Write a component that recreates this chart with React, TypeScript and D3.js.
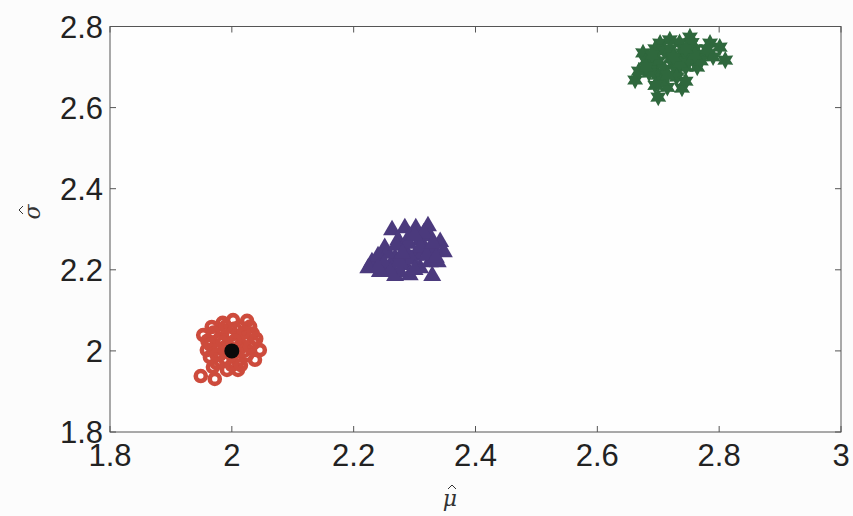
import React from "react";
import * as d3 from "d3";

// estimates
const redX = [1.949, 1.972, 2.025, 2.034, 2.036, 2.046, 2.038, 2.010, 1.953, 1.959, 1.964, 1.967, 1.985, 2.002, 2.013, 1.969, 1.992, 1.980, 2.000, 2.020, 1.975, 2.020, 1.990, 2.010, 2.025, 1.985, 1.960, 2.030, 2.000, 1.975, 1.995, 2.015, 1.970, 2.005, 1.990, 2.030, 1.980, 2.000, 1.965, 2.020, 2.015, 1.985, 1.975, 2.040, 2.005, 1.990];
const redY = [1.938, 1.931, 2.074, 2.043, 2.020, 2.002, 1.978, 1.953, 2.039, 2.002, 1.985, 2.059, 2.069, 2.076, 2.059, 1.960, 1.953, 2.030, 2.040, 2.030, 2.005, 2.000, 1.980, 1.975, 1.990, 2.050, 2.025, 2.060, 1.965, 1.970, 2.010, 2.015, 2.045, 2.055, 2.000, 2.010, 1.990, 1.990, 2.015, 2.045, 1.965, 2.020, 1.990, 2.030, 2.025, 2.060];

const purpleX = [2.263, 2.284, 2.302, 2.322, 2.342, 2.348, 2.338, 2.329, 2.268, 2.243, 2.230, 2.240, 2.251, 2.273, 2.292, 2.309, 2.325, 2.284, 2.301, 2.317, 2.268, 2.284, 2.309, 2.325, 2.260, 2.292, 2.224, 2.276, 2.333, 2.255, 2.270, 2.290, 2.310, 2.320, 2.295, 2.275, 2.250, 2.315, 2.300, 2.335, 2.300, 2.260, 2.240, 2.280, 2.330];
const purpleY = [2.298, 2.303, 2.303, 2.308, 2.269, 2.244, 2.219, 2.185, 2.185, 2.195, 2.219, 2.234, 2.254, 2.273, 2.283, 2.273, 2.283, 2.249, 2.236, 2.249, 2.229, 2.212, 2.204, 2.219, 2.209, 2.187, 2.204, 2.195, 2.249, 2.240, 2.260, 2.265, 2.255, 2.235, 2.225, 2.220, 2.215, 2.290, 2.285, 2.230, 2.200, 2.195, 2.205, 2.240, 2.265];

const greenX = [2.662, 2.700, 2.739, 2.752, 2.785, 2.810, 2.801, 2.675, 2.703, 2.719, 2.764, 2.690, 2.720, 2.740, 2.700, 2.730, 2.680, 2.760, 2.775, 2.745, 2.715, 2.695, 2.735, 2.790, 2.668, 2.700, 2.725, 2.750, 2.710, 2.690, 2.755, 2.730, 2.705, 2.685, 2.720, 2.770, 2.745, 2.710, 2.735, 2.760, 2.680, 2.725, 2.780, 2.695, 2.745, 2.715];
const greenY = [2.668, 2.626, 2.648, 2.774, 2.759, 2.717, 2.749, 2.735, 2.759, 2.767, 2.700, 2.700, 2.720, 2.735, 2.680, 2.690, 2.715, 2.745, 2.730, 2.700, 2.650, 2.745, 2.760, 2.725, 2.690, 2.715, 2.705, 2.720, 2.740, 2.730, 2.760, 2.675, 2.665, 2.685, 2.745, 2.715, 2.665, 2.695, 2.710, 2.730, 2.700, 2.725, 2.745, 2.655, 2.745, 2.680];

const trueMu = [2.0];
const trueSigma = [2.0];

const xTicks = [1.8, 2, 2.2, 2.4, 2.6, 2.8, 3];
const yTicks = [1.8, 2, 2.2, 2.4, 2.6, 2.8];

const W = 853, H = 516;
const left = 110, right = 841, top = 26.5, bottom = 432;
const tickLen = 6;
const font = "'Liberation Sans', Arial, sans-serif";
const serif = "'DejaVu Serif', 'Liberation Serif', serif";

// six pointed star, like matlab's 'h' marker
const hexagram = {
  draw(ctx: any, size: number) {
    const R = Math.sqrt(size) * 0.62;
    const r = R * 0.55;
    for (let i = 0; i < 12; i++) {
      const a = (i * Math.PI) / 6 - Math.PI / 2;
      const rr = i % 2 === 0 ? R : r;
      if (i === 0) ctx.moveTo(rr * Math.cos(a), rr * Math.sin(a));
      else ctx.lineTo(rr * Math.cos(a), rr * Math.sin(a));
    }
    ctx.closePath();
  }
};

const hat = "M-4,0 L0,-4 L4,0";

const App = () => {
  const x = d3.scaleLinear().domain([1.8, 3]).range([left, right]);
  const y = d3.scaleLinear().domain([1.8, 2.8]).range([bottom, top]);
  const tri = d3.symbol().type(d3.symbolTriangle).size(140)();
  const star = d3.symbol().type(hexagram as any).size(220)();
  const fmt = (d: number) => String(+d.toFixed(1));

  return (
    <svg width={W} height={H} style={{ position: "fixed", left: 0, top: 0, background: "#fcfcfc" }}>
      <rect x={0} y={0} width={W} height={H} fill="#fcfcfc" />
      <rect x={left} y={top} width={right - left} height={bottom - top} fill="#fefefe" />

      {/* red circles */}
      {redX.map((d, i) => (
        <circle key={"r" + i} cx={x(d)} cy={y(redY[i])} r={5} fill="none" stroke="#cd4b3c" strokeWidth={4.6} />
      ))}
      {trueMu.map((d, i) => (
        <circle key={"t" + i} cx={x(d)} cy={y(trueSigma[i])} r={7.5} fill="#0a0a0a" />
      ))}

      {/* purple triangles */}
      {purpleX.map((d, i) => (
        <path key={"p" + i} d={tri!} transform={`translate(${x(d)},${y(purpleY[i])})`} fill="#4b3a7d" />
      ))}

      {/* green stars */}
      {greenX.map((d, i) => (
        <path key={"g" + i} d={star!} transform={`translate(${x(d)},${y(greenY[i])})`} fill="#2f683d" />
      ))}

      {/* axes box */}
      <rect x={left} y={top} width={right - left} height={bottom - top} fill="none" stroke="#555" strokeWidth={1} />
      {xTicks.map(t => (
        <g key={"xt" + t}>
          <line x1={x(t)} x2={x(t)} y1={bottom} y2={bottom - tickLen} stroke="#555" />
          <line x1={x(t)} x2={x(t)} y1={top} y2={top + tickLen} stroke="#555" />
          <text x={x(t)} y={466} textAnchor="middle" fontFamily={font} fontSize={31} fill="#222">{fmt(t)}</text>
        </g>
      ))}
      {yTicks.map(t => (
        <g key={"yt" + t}>
          <line x1={left} x2={left + tickLen} y1={y(t)} y2={y(t)} stroke="#555" />
          <line x1={right} x2={right - tickLen} y1={y(t)} y2={y(t)} stroke="#555" />
          <text x={103} y={y(t) + 11} textAnchor="end" fontFamily={font} fontSize={31} fill="#222">{fmt(t)}</text>
        </g>
      ))}

      {/* axis labels: letter with a hat */}
      <g transform="translate(450,506)">
        <text x={0} y={0} textAnchor="middle" fontFamily={serif} fontStyle="italic" fontSize={22} fill="#333">μ</text>
        <path d={hat} transform="translate(2,-17)" fill="none" stroke="#333" strokeWidth={1} />
      </g>
      <g transform="translate(40,212) rotate(-90)">
        <text x={0} y={0} textAnchor="middle" fontFamily={serif} fontStyle="italic" fontSize={22} fill="#333">σ</text>
        <path d={hat} transform="translate(2,-17)" fill="none" stroke="#333" strokeWidth={1} />
      </g>
    </svg>
  );
};

export default App;
